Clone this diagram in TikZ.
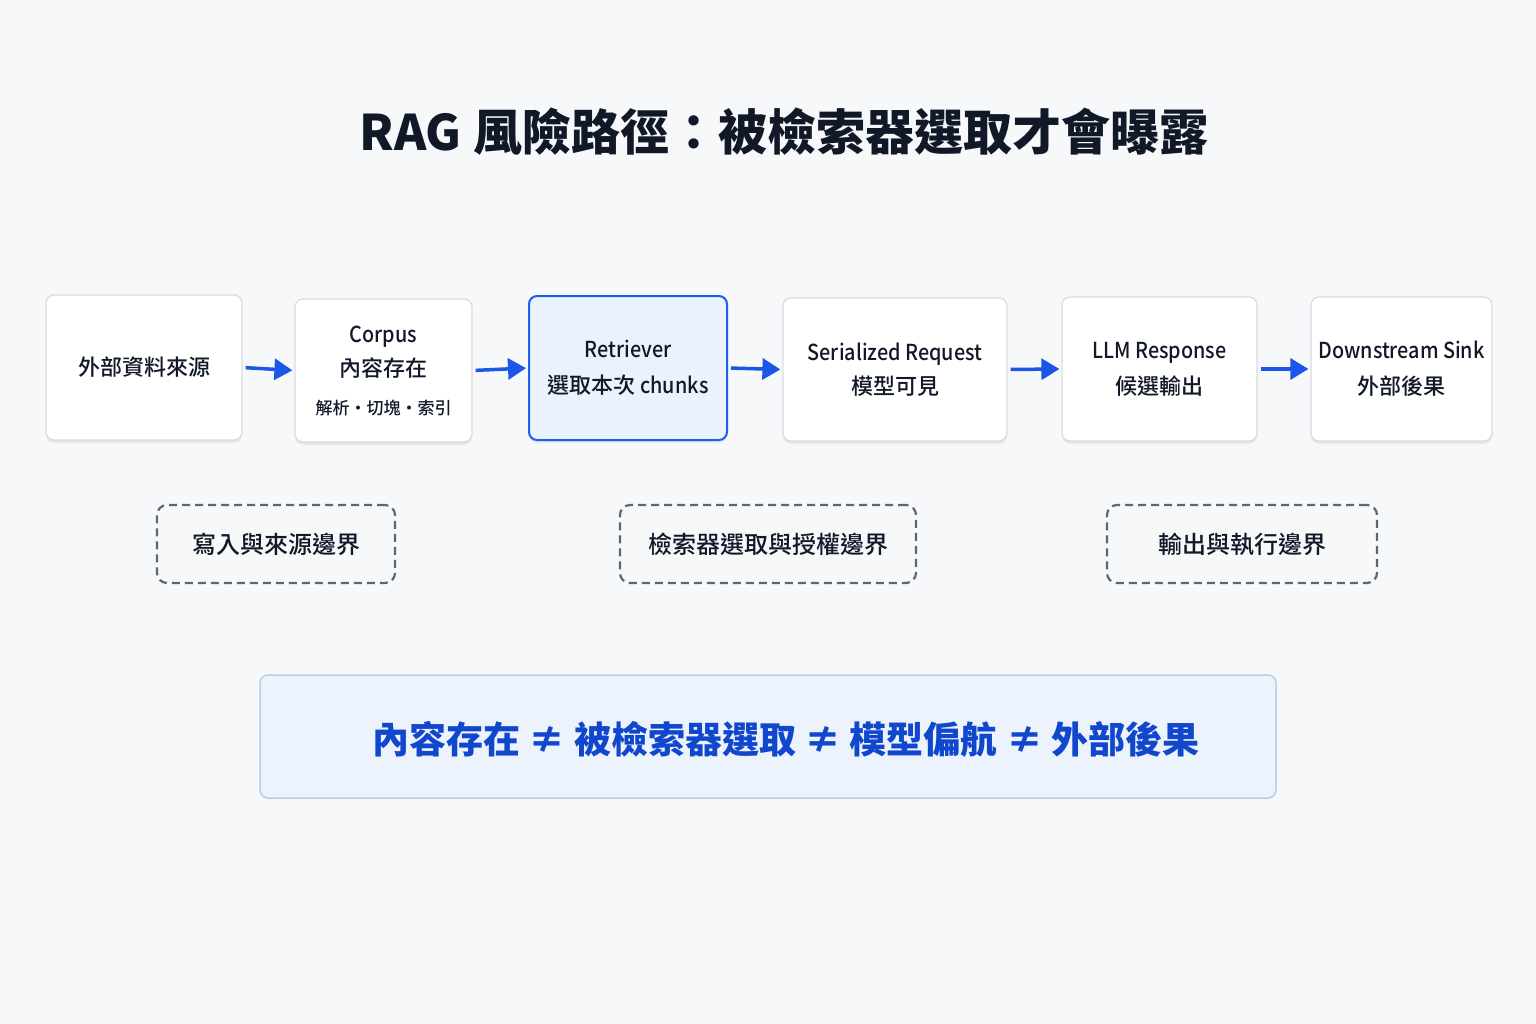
\documentclass[tikz,border=0pt]{standalone}
\usepackage{fontspec}
\setmainfont{Noto Sans CJK TC}
\newfontfamily\medfont{Noto Sans CJK TC Medium}
\newfontfamily\latfont[FakeStretch=0.9]{Noto Sans CJK TC Medium}
\newfontfamily\blackfont{Noto Sans CJK TC Black}
\usetikzlibrary{arrows.meta}
\definecolor{bg}{HTML}{F7F8FA}
\definecolor{cardline}{HTML}{D8DBE0}
\definecolor{ink}{HTML}{111827}
\definecolor{flowblue}{HTML}{1A56E8}
\definecolor{selfill}{HTML}{EAF2FD}
\definecolor{selline}{HTML}{1F5FE6}
\definecolor{dashgray}{HTML}{5F6673}
\definecolor{notefill}{HTML}{EDF3FC}
\definecolor{noteline}{HTML}{B9CDEB}
\definecolor{notetext}{HTML}{1147CC}
\newcommand{\lt}[1]{{\latfont #1}}
\begin{document}
\begin{tikzpicture}[x=1pt,y=-1pt,
  card/.style={draw=cardline, line width=1.2pt, fill=white, rounded corners=8pt,
    align=center, inner sep=0pt, text=ink,
    font=\medfont\fontsize{22}{36}\selectfont,
    preaction={draw=none, fill=black, fill opacity=0.05, transform canvas={yshift=-3pt}},
    preaction={draw=none, fill=black, fill opacity=0.04, transform canvas={yshift=-1.5pt}}},
  selcard/.style={card, draw=selline, line width=2pt, fill=selfill},
  flow/.style={draw=flowblue, line width=3.5pt, shorten <=3pt, shorten >=2pt,
    -{Triangle[length=18pt,width=21pt]}},
  bound/.style={draw=dashgray, line width=2.2pt, dash pattern=on 8pt off 5pt,
    rounded corners=10pt, fill=bg, inner sep=0pt, text=ink,
    font=\medfont\fontsize{24}{28}\selectfont},
  note/.style={draw=noteline, line width=1.5pt, fill=notefill, rounded corners=8pt,
    inner sep=0pt},
  notetxt/.style={text=notetext, font=\blackfont\fontsize{37}{40}\selectfont, inner sep=0pt},
  title/.style={text=ink, font=\blackfont\fontsize{49}{56}\selectfont, inner sep=0pt}
]
\useasboundingbox[fill=bg] (0,0) rectangle (1536,1024);

\node[title] (ttl) at (784,132) {RAG 風險路徑：被檢索器選取才會曝露};

\node[card, minimum width=196pt, minimum height=145pt] (src) at (144,367.5) {外部資料來源};
\node[card, minimum width=177pt, minimum height=143pt] (corp) at (383.5,370.5)
  {\lt{Corpus}\\[-2pt]內容存在\\[2pt]{\fontsize{17}{26}\selectfont 解析・切塊・索引}};
\node[selcard, minimum width=198pt, minimum height=144pt] (ret) at (628,368)
  {\lt{Retriever}\\選取本次 \lt{chunks}};
\node[card, minimum width=224pt, minimum height=143pt] (ser) at (895,369.5)
  {\lt{Serialized Request}\\[-2pt]模型可見};
\node[card, minimum width=195pt, minimum height=144pt] (llm) at (1159.5,369)
  {\lt{LLM Response}\\候選輸出};
\node[card, minimum width=181pt, minimum height=144pt] (sink) at (1401.5,369)
  {\lt{Downstream Sink}\\外部後果};

\draw[flow] (src.east) -- (corp.west);
\draw[flow] (corp.east) -- (ret.west);
\draw[flow] (ret.east) -- (ser.west);
\draw[flow] (ser.east) -- (llm.west);
\draw[flow] (llm.east) -- (sink.west);

\node[bound, minimum width=238pt, minimum height=78pt] (b1) at (276,544) {寫入與來源邊界};
\node[bound, minimum width=296pt, minimum height=78pt] (b2) at (768,544) {檢索器選取與授權邊界};
\node[bound, minimum width=270pt, minimum height=78pt] (b3) at (1242,544) {輸出與執行邊界};

\node[note, minimum width=1016pt, minimum height=123pt] (sum) at (768,736.5) {};
\node[notetxt] (sumtxt) at (786,739)
  {內容存在 ≠ 被檢索器選取 ≠ 模型偏航 ≠ 外部後果};
\end{tikzpicture}
\end{document}
